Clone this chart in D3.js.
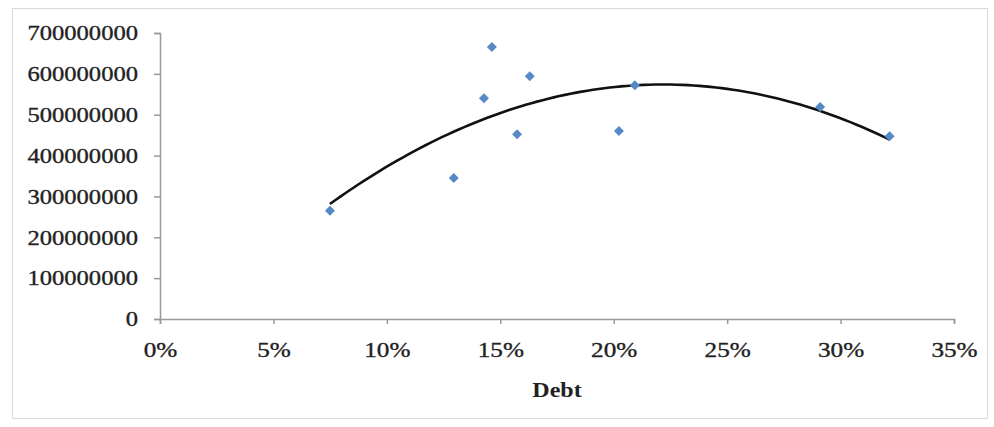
<!DOCTYPE html>
<html>
<head>
<meta charset="utf-8">
<script src="https://cdn.jsdelivr.net/npm/d3@7"></script>
<style>
  html, body { margin: 0; padding: 0; background: #fff; }
  svg { display: block; }
  text { font-family: "Liberation Serif", "Times New Roman", serif; fill: #222; }
</style>
</head>
<body>
<svg id="chart" width="994" height="427"></svg>
<script>
// Debt ratio (%) for each observation
const debt = [7.49, 12.95, 14.28, 14.63, 15.74, 16.30, 20.23, 20.93, 29.10, 32.16];
// Corresponding value (units)
const value = [265000000, 345000000, 540000000, 666000000, 452000000, 594000000, 460000000, 572000000, 519000000, 447000000];
// Axis ticks
const xTicks = [0, 5, 10, 15, 20, 25, 30, 35];
const yTicks = [0, 100000000, 200000000, 300000000, 400000000, 500000000, 600000000, 700000000];
const xTitle = "Debt";

const svg = d3.select("#chart");
const plot = { left: 160, right: 954, top: 33, bottom: 319 };

// outer chart frame
svg.append("rect")
  .attr("x", 12.5).attr("y", 8.5)
  .attr("width", 975).attr("height", 410)
  .attr("fill", "#fff").attr("stroke", "#d9d9d9").attr("stroke-width", 1);

const x = d3.scaleLinear().domain([0, 35]).range([plot.left, plot.right]);
const y = d3.scaleLinear().domain([0, 700000000]).range([plot.bottom, plot.top]);

// widen label glyphs slightly, keeping their anchor
function stretch(sel, k) {
  sel.each(function() {
    const len = this.getComputedTextLength();
    d3.select(this).attr("textLength", len * k).attr("lengthAdjust", "spacingAndGlyphs");
  });
}

// Y axis
const yAxis = svg.append("g")
  .attr("transform", `translate(${plot.left},0)`)
  .call(d3.axisLeft(y).tickValues(yTicks).tickFormat(d3.format("d")).tickSize(6).tickPadding(16));
yAxis.select(".domain").attr("stroke", "#999").attr("stroke-width", 1.5);
yAxis.selectAll(".tick line").attr("stroke", "#999").attr("stroke-width", 1.5);
yAxis.selectAll(".tick text")
  .attr("font-size", 21)
  .attr("fill", "#222").attr("stroke", "#222").attr("stroke-width", 0.35)
  .attr("font-family", "Liberation Serif, Times New Roman, serif")
  .call(stretch, 1.17);

// X axis
const xAxis = svg.append("g")
  .attr("transform", `translate(0,${plot.bottom})`)
  .call(d3.axisBottom(x).tickValues(xTicks).tickFormat(d => d + "%").tickSize(5).tickPadding(18));
xAxis.select(".domain").attr("stroke", "#999").attr("stroke-width", 1.5);
xAxis.selectAll(".tick line").attr("stroke", "#999").attr("stroke-width", 1.5);
xAxis.selectAll(".tick text")
  .attr("font-size", 21)
  .attr("fill", "#222").attr("stroke", "#222").attr("stroke-width", 0.35)
  .attr("font-family", "Liberation Serif, Times New Roman, serif")
  .call(stretch, 1.2);

// X axis title
svg.append("text")
  .attr("x", (plot.left + plot.right) / 2)
  .attr("y", 397)
  .attr("text-anchor", "middle")
  .attr("font-size", 20)
  .attr("font-weight", "bold")
  .attr("fill", "#111")
  .text(xTitle)
  .call(stretch, 1.2);

// Second-order polynomial trend line (least squares)
function polyFit2(xs, ys) {
  const s = [0, 0, 0, 0, 0], t = [0, 0, 0];
  xs.forEach((xi, i) => {
    for (let k = 0; k <= 4; k++) s[k] += Math.pow(xi, k);
    for (let k = 0; k <= 2; k++) t[k] += ys[i] * Math.pow(xi, k);
  });
  const A = [[s[0], s[1], s[2], t[0]], [s[1], s[2], s[3], t[1]], [s[2], s[3], s[4], t[2]]];
  for (let i = 0; i < 3; i++) {
    let p = i;
    for (let r = i + 1; r < 3; r++) if (Math.abs(A[r][i]) > Math.abs(A[p][i])) p = r;
    [A[i], A[p]] = [A[p], A[i]];
    for (let r = 0; r < 3; r++) {
      if (r === i) continue;
      const f = A[r][i] / A[i][i];
      for (let c = i; c < 4; c++) A[r][c] -= f * A[i][c];
    }
  }
  return [A[0][3] / A[0][0], A[1][3] / A[1][1], A[2][3] / A[2][2]];
}
const [c0, c1, c2] = polyFit2(debt, value);
const xmin = d3.min(debt), xmax = d3.max(debt);
const trend = d3.range(0, 101).map(i => {
  const xv = xmin + (xmax - xmin) * i / 100;
  return [xv, c0 + c1 * xv + c2 * xv * xv];
});
svg.append("path")
  .datum(trend)
  .attr("fill", "none")
  .attr("stroke", "#111")
  .attr("stroke-width", 2.6)
  .attr("d", d3.line().x(d => x(d[0])).y(d => y(d[1])));

// Scatter markers (diamonds)
const diamond = d3.symbol().type(d3.symbolSquare).size(50);
svg.append("g").selectAll("path")
  .data(debt.map((d, i) => [d, value[i]]))
  .join("path")
  .attr("d", diamond)
  .attr("transform", d => `translate(${x(d[0])},${y(d[1])}) rotate(45)`)
  .attr("fill", "#5689c6");
</script>
</body>
</html>
